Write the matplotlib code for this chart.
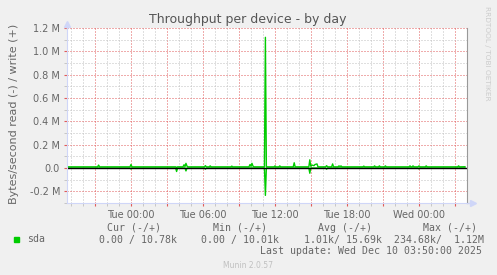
import numpy as np
import matplotlib
matplotlib.use("Agg")
import matplotlib.pyplot as plt
from matplotlib.patches import Rectangle
from matplotlib.lines import Line2D

# hours relative to Tue 00:00
write_t = [-5.33, -2.78, -2.7, -2.62, -0.08, 0.0, 0.08, 3.72, 3.8, 3.88,
           4.33, 4.42, 4.5, 4.58, 4.67, 4.75, 6.12, 6.2, 6.28, 6.52, 6.6, 6.68,
           8.32, 8.4, 8.48, 9.83, 9.92, 10.0, 10.08, 10.17, 10.25,
           11.12, 11.2, 11.28, 11.92, 12.0, 12.08, 12.32, 12.4, 12.48,
           13.52, 13.6, 13.68, 14.82, 14.9, 14.98, 15.08, 15.25, 15.33, 15.5, 15.58,
           16.22, 16.3, 16.38, 16.72, 16.8, 16.88, 17.25, 17.33, 17.42, 17.5, 17.58,
           19.32, 19.4, 19.48, 20.22, 20.3, 20.38, 20.62, 20.7, 20.78, 21.12, 21.2, 21.28,
           23.17, 23.25, 23.33, 23.42, 23.5, 23.58, 23.92, 24.0, 24.08, 24.52, 24.6, 24.68,
           27.22, 27.3, 27.38, 27.83]
write_v = [10e3, 10e3, 25e3, 10e3, 10e3, 30e3, 10e3, 10e3, 5e3, 10e3,
           10e3, 28e3, 12e3, 40e3, 15e3, 10e3, 10e3, 20e3, 10e3, 10e3, 18e3, 10e3,
           10e3, 16e3, 10e3, 10e3, 30e3, 14e3, 40e3, 15e3, 10e3,
           10e3, 1.12e6, 10e3, 10e3, 18e3, 10e3, 10e3, 18e3, 10e3,
           10e3, 45e3, 10e3, 10e3, 70e3, 15e3, 25e3, 20e3, 30e3, 35e3, 10e3,
           10e3, 20e3, 10e3, 10e3, 35e3, 10e3, 10e3, 18e3, 12e3, 18e3, 10e3,
           10e3, 16e3, 10e3, 10e3, 18e3, 10e3, 10e3, 18e3, 10e3, 10e3, 18e3, 10e3,
           10e3, 18e3, 10e3, 10e3, 18e3, 10e3, 10e3, 18e3, 10e3, 10e3, 18e3, 10e3,
           10e3, 18e3, 10e3, 10.78e3]

read_t = [-5.33, -0.08, 0.0, 0.08, 3.72, 3.8, 3.88, 4.5, 4.58, 4.67, 6.12, 6.2, 6.28,
          11.12, 11.2, 11.28, 14.82, 14.9, 14.98, 16.22, 16.3, 16.38, 23.92, 24.0, 24.08, 27.83]
read_v = [0, 0, 8e3, 0, 0, 30e3, 0, 0, 25e3, 0, 0, 10e3, 0,
          0, 234.68e3, 0, 0, 45e3, 0, 0, 10e3, 0, 0, 8e3, 0, 0]

xtick_pos = [0, 6, 12, 18, 24]
xtick_labels = ["Tue 00:00", "Tue 06:00", "Tue 12:00", "Tue 18:00", "Wed 00:00"]

legend_head = ["Cur (-/+)", "Min (-/+)", "Avg (-/+)", "Max (-/+)"]
legend_vals = ["0.00 / 10.78k", "0.00 / 10.01k", "1.01k/ 15.69k", "234.68k/  1.12M"]

W, H = 497, 275
FONT = "#666666"
GREEN = "#00CC00"
AXISC = "#CFD6F8"
MGRID = "#e05a5a"

fig = plt.figure(figsize=(W / 100, H / 100), dpi=100, facecolor="#F0F0F0")
ax = fig.add_axes([67 / W, 1 - 203 / H, 400 / W, 175 / H])
ax.set_facecolor("white")

ax.set_xlim(-5.333, 28.0)
ax.set_ylim(-0.3e6, 1.2e6)

# grid: minor every hour / 0.1M, major every 3 hours / 0.2M
major_x = np.arange(-3, 28, 3)
ax.set_xticks(major_x)
ax.set_xticks([h for h in range(-5, 28) if h % 3 != 0], minor=True)
ax.set_xticklabels([xtick_labels[xtick_pos.index(t)] if t in xtick_pos else ""
                    for t in major_x])
yt = np.arange(-0.2e6, 1.21e6, 0.2e6)
ax.set_yticks(yt)
ax.set_yticks(np.arange(-0.3e6, 1.21e6, 0.2e6), minor=True)
ax.set_yticklabels(["0.0" if abs(v) < 1 else "%.1f M" % (v / 1e6) for v in yt])

ax.grid(which="minor", color="#c0c0c0", linestyle=(0, (1, 2)), linewidth=0.72)
ax.grid(which="major", color=MGRID, linestyle=(0, (1, 2)), linewidth=0.72)
ax.set_axisbelow(True)

ax.tick_params(which="both", colors=MGRID, labelcolor=FONT, labelsize=7, length=2, pad=3)
ax.tick_params(which="minor", colors="#c0c0c0")

ax.spines["top"].set_visible(False)
ax.spines["left"].set_color(AXISC)
ax.spines["bottom"].set_color(AXISC)
ax.spines["right"].set_color("#999999")

# axis arrows
ax.add_line(Line2D([0, 0], [1, 1.025], transform=ax.transAxes, color=AXISC, lw=1, clip_on=False))
ax.plot([0], [1.025], marker="^", color=AXISC, ms=4, transform=ax.transAxes, clip_on=False)
ax.add_line(Line2D([1, 1.015], [0, 0], transform=ax.transAxes, color=AXISC, lw=1, clip_on=False))
ax.plot([1.015], [0], marker=">", color=AXISC, ms=4, transform=ax.transAxes, clip_on=False)

ax.plot(read_t, -np.array(read_v), color=GREEN, lw=1)
ax.plot(write_t, write_v, color=GREEN, lw=1)
ax.axhline(0, color="black", lw=1)

ax.set_ylabel("Bytes/second read (-) / write (+)", color=FONT, fontsize=8)
ax.yaxis.set_label_coords((19 - 67) / 400, 0.51)

fig.text(248 / W, 1 - 19 / H, "Throughput per device - by day", ha="center", va="center",
         fontsize=9, color="#555555")
fig.text(487 / W, 1 - 53 / H, "RRDTOOL / TOBI OETIKER", rotation=270, ha="center", va="center",
         fontsize=5.3, color="#cccccc")

# legend
mono = dict(family="DejaVu Sans Mono", fontsize=7.1, color=FONT, va="center")
fig.add_artist(Rectangle((14 / W, 1 - 242 / H), 5 / W, 5 / H, transform=fig.transFigure,
                         color=GREEN))
fig.text(27 / W, 1 - 239.5 / H, "sda", ha="left", **mono)
for xh, txt in zip([107, 213, 318, 423], legend_head):
    fig.text(xh / W, 1 - 228 / H, txt, ha="left", **mono)
for xv, txt in zip([99, 201, 304, 394], legend_vals):
    fig.text(xv / W, 1 - 239.5 / H, txt, ha="left", **mono)
fig.text(482 / W, 1 - 251 / H, "Last update: Wed Dec 10 03:50:00 2025", ha="right", **mono)
fig.text(248 / W, 1 - 265 / H, "Munin 2.0.57", ha="center", va="center", fontsize=5.5,
         color="#c0c0c0")

fig.savefig("out.png", dpi=100, facecolor=fig.get_facecolor())
